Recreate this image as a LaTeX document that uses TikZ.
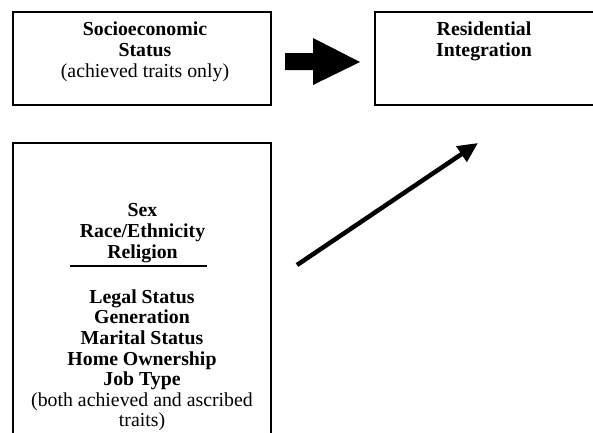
\documentclass[tikz,border=0pt]{standalone}
\usepackage{fontspec}
\setmainfont{Liberation Serif}
\usetikzlibrary{arrows.meta}
\newcommand{\boxfont}{\fontsize{19.8}{21}\selectfont}
\newcommand{\listfont}{\fontsize{19.8}{20.6}\selectfont}
\tikzset{
    framebox/.style={draw, line width=1.7pt, rectangle, inner sep=0pt},
    boxtext/.style={align=center, inner sep=0pt, anchor=north, font=\boxfont},
    listtext/.style={align=center, inner sep=0pt, anchor=north, font=\listfont},
    slimarrow/.style={line width=4.5pt, -{Triangle[length=20pt,width=18pt]}}
}

\begin{document}
\begin{tikzpicture}[x=1pt,y=-1pt]
    \useasboundingbox (0,0) rectangle (593,432);

    \node[framebox, minimum width=258pt, minimum height=93pt] (ses) at (142,58.5) {};
    \node[boxtext] (sestext) at (145,21.3) {\textbf{Socioeconomic}\\\textbf{Status}\\(achieved traits only)};

    \node[framebox, minimum width=219pt, minimum height=93pt] (res) at (484.5,58.5) {};
    \node[boxtext] (restext) at (484,21.3) {\textbf{Residential}\\\textbf{Integration}};

    % block arrow between the two upper boxes
    \fill (285,53) -- (313,53) -- (313,38) -- (360,62) -- (313,85) -- (313,70) -- (285,70) -- cycle;

    \node[framebox, minimum width=258pt, minimum height=293pt] (traits) at (142,289.5) {};
    \node[boxtext] (ascribed) at (142.5,202.8) {\textbf{Sex}\\\textbf{Race/Ethnicity}\\\textbf{Religion}};
    \coordinate (ruleleft) at (70,266);
    \coordinate (ruleright) at (207,266);
    \draw[line width=1.5pt] (ruleleft) -- (ruleright);
    \node[listtext] (mixed) at (142,289.3) {\textbf{Legal Status}\\\textbf{Generation}\\\textbf{Marital Status}\\\textbf{Home Ownership}\\\textbf{Job Type}\\(both achieved and ascribed\\traits)};

    \coordinate (from) at (297,265);
    \coordinate (to) at (478,143);
    \draw[slimarrow] (from) -- (to);

\end{tikzpicture}
\end{document}
